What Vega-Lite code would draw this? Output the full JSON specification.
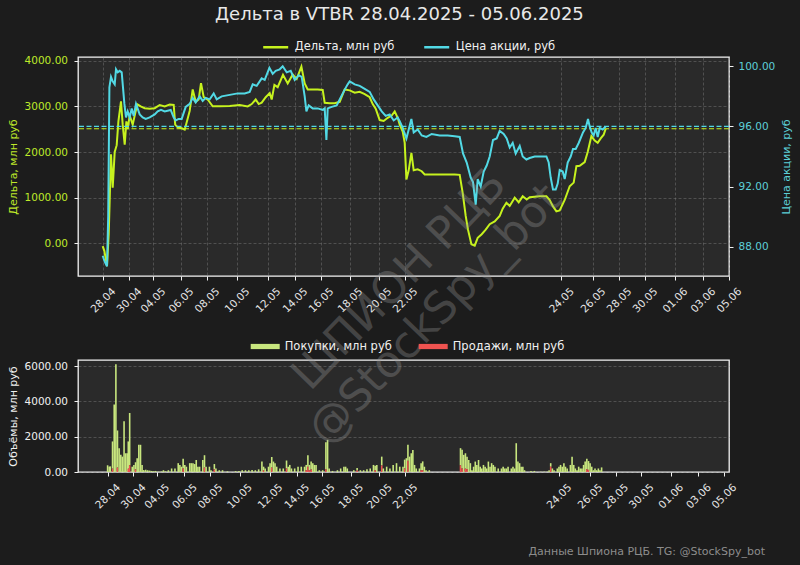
{
  "$schema": "https://vega.github.io/schema/vega-lite/v6.json",
  "background": "#1c1c1c",
  "padding": {"left": 6, "right": 8, "top": 6, "bottom": 10},
  "title": {"text": "Дельта в VTBR 28.04.2025 - 05.06.2025", "fontSize": 18, "color": "#e8e8e8", "font": "DejaVu Sans", "fontWeight": "normal", "anchor": "middle", "offset": 8},
  "bounds": "flush",
  "spacing": 84,
  "resolve": {"scale": {"color": "independent", "x": "independent", "y": "independent"}, "legend": {"color": "independent"}},
  "datasets": {
    "delta": [
      {"t":24.7,"v":-60},{"t":26.4,"v":-170},{"t":29,"v":-500},{"t":30.7,"v":200},{"t":33,"v":1950},{"t":34.7,"v":1220},{"t":36.7,"v":2000},{"t":38.7,"v":2150},{"t":40.4,"v":2670},{"t":43,"v":3110},{"t":44.7,"v":2600},{"t":46.7,"v":2160},{"t":48.4,"v":2670},{"t":49.7,"v":2500},{"t":51.7,"v":2800},{"t":54.7,"v":2600},{"t":57.7,"v":2900},{"t":59.7,"v":3040},{"t":62.7,"v":3000},{"t":66.7,"v":2960},{"t":71.7,"v":2950},{"t":76.7,"v":2960},{"t":81.7,"v":3030},{"t":86.7,"v":3000},{"t":91.7,"v":3040},{"t":95.7,"v":3030},{"t":97.2,"v":2600},{"t":99.7,"v":2540},{"t":103.7,"v":2520},{"t":106.7,"v":2490},{"t":108.7,"v":2650},{"t":111.7,"v":2900},{"t":114.7,"v":3370},{"t":117.7,"v":3100},{"t":120.7,"v":3150},{"t":123,"v":3510},{"t":125.7,"v":3200},{"t":129.7,"v":3150},{"t":134.7,"v":3000},{"t":141.7,"v":3000},{"t":151.7,"v":3010},{"t":161.7,"v":3030},{"t":169.7,"v":3000},{"t":173.7,"v":3050},{"t":177.7,"v":3150},{"t":180.7,"v":3050},{"t":183.7,"v":3080},{"t":187.7,"v":3200},{"t":191.7,"v":3290},{"t":193.7,"v":3150},{"t":196.4,"v":3470},{"t":199.7,"v":3420},{"t":205,"v":3690},{"t":209.7,"v":3500},{"t":214.7,"v":3700},{"t":218.7,"v":3600},{"t":223.4,"v":3870},{"t":226.7,"v":3500},{"t":229.7,"v":3370},{"t":233.7,"v":3370},{"t":239.7,"v":3370},{"t":244.7,"v":3360},{"t":246.7,"v":3080},{"t":251.7,"v":3070},{"t":256.7,"v":3070},{"t":261.7,"v":3100},{"t":266.7,"v":3370},{"t":271.7,"v":3350},{"t":276.7,"v":3300},{"t":281.7,"v":3320},{"t":286.7,"v":3270},{"t":291.7,"v":3200},{"t":294.7,"v":3050},{"t":297.7,"v":2950},{"t":301.7,"v":2700},{"t":305.7,"v":2680},{"t":309.7,"v":2750},{"t":313.7,"v":2800},{"t":316.7,"v":2890},{"t":319.7,"v":2750},{"t":321.7,"v":2600},{"t":324.7,"v":2450},{"t":326.7,"v":2200},{"t":328.4,"v":1400},{"t":330.7,"v":1600},{"t":333.4,"v":1980},{"t":335.7,"v":1600},{"t":339.7,"v":1620},{"t":343.7,"v":1580},{"t":346.7,"v":1510},{"t":356.7,"v":1510},{"t":366.7,"v":1510},{"t":376.7,"v":1510},{"t":381.7,"v":1500},{"t":384.7,"v":1100},{"t":387.7,"v":600},{"t":390,"v":300},{"t":393.4,"v":-20},{"t":396.7,"v":-50},{"t":399.7,"v":120},{"t":403.7,"v":200},{"t":407.7,"v":300},{"t":411.7,"v":420},{"t":416.7,"v":480},{"t":421.7,"v":600},{"t":424.7,"v":760},{"t":428.4,"v":890},{"t":431.7,"v":820},{"t":436.7,"v":1000},{"t":440.7,"v":900},{"t":444.7,"v":1030},{"t":448.7,"v":960},{"t":451.7,"v":1010},{"t":456.7,"v":1020},{"t":461.7,"v":1030},{"t":468.4,"v":1030},{"t":471.7,"v":950},{"t":474.7,"v":820},{"t":478.4,"v":700},{"t":481.7,"v":720},{"t":486.7,"v":950},{"t":491.7,"v":1250},{"t":495.7,"v":1330},{"t":498.4,"v":1690},{"t":501.7,"v":1700},{"t":506.7,"v":1780},{"t":509.7,"v":2000},{"t":513.4,"v":2350},{"t":516.7,"v":2250},{"t":519.7,"v":2200},{"t":522.7,"v":2300},{"t":525.7,"v":2380},{"t":527.7,"v":2510}
    ],
    "price": [
      {"t":24.7,"v":87.4},{"t":26.7,"v":87.0},{"t":29.0,"v":86.7},{"t":30.2,"v":90.0},{"t":31.4,"v":98.6},{"t":33.0,"v":99.3},{"t":34.7,"v":99.0},{"t":36.7,"v":98.8},{"t":38.0,"v":99.8},{"t":39.7,"v":99.6},{"t":41.7,"v":99.7},{"t":43.7,"v":99.6},{"t":46.4,"v":97.5},{"t":48.0,"v":96.6},{"t":49.7,"v":97.0},{"t":51.7,"v":96.6},{"t":53.7,"v":97.2},{"t":55.7,"v":96.7},{"t":58.0,"v":97.5},{"t":61.7,"v":96.8},{"t":64.7,"v":96.6},{"t":67.7,"v":96.5},{"t":71.7,"v":96.6},{"t":76.7,"v":96.8},{"t":79.7,"v":97.0},{"t":83.0,"v":97.1},{"t":86.7,"v":97.0},{"t":92.7,"v":97.1},{"t":95.7,"v":96.6},{"t":97.7,"v":96.4},{"t":100.7,"v":96.5},{"t":103.7,"v":96.5},{"t":105.7,"v":96.9},{"t":107.7,"v":97.3},{"t":111.7,"v":97.5},{"t":114.7,"v":97.9},{"t":117.7,"v":97.6},{"t":121.7,"v":98.0},{"t":124.7,"v":97.7},{"t":127.7,"v":97.9},{"t":131.7,"v":97.8},{"t":135.7,"v":98.2},{"t":138.7,"v":97.8},{"t":143.7,"v":98.0},{"t":151.7,"v":98.1},{"t":159.7,"v":98.2},{"t":166.7,"v":98.2},{"t":171.7,"v":98.3},{"t":174.7,"v":98.8},{"t":178.7,"v":98.7},{"t":183.7,"v":99.2},{"t":186.7,"v":99.1},{"t":191.4,"v":99.9},{"t":194.7,"v":99.5},{"t":197.7,"v":99.7},{"t":201.7,"v":99.8},{"t":204.7,"v":100.0},{"t":208.7,"v":99.6},{"t":212.7,"v":99.7},{"t":216.7,"v":99.1},{"t":220.7,"v":99.4},{"t":223.7,"v":99.3},{"t":226.7,"v":98.0},{"t":228.4,"v":97.0},{"t":230.7,"v":97.4},{"t":234.7,"v":97.2},{"t":239.7,"v":97.2},{"t":244.7,"v":97.1},{"t":246.7,"v":97.2},{"t":248.4,"v":95.1},{"t":249.7,"v":97.2},{"t":253.7,"v":97.3},{"t":258.7,"v":97.4},{"t":261.7,"v":97.8},{"t":266.7,"v":98.45},{"t":269.7,"v":98.8},{"t":271.7,"v":99.0},{"t":276.7,"v":98.8},{"t":281.7,"v":98.7},{"t":286.7,"v":98.5},{"t":291.7,"v":98.3},{"t":295.7,"v":97.8},{"t":299.7,"v":97.4},{"t":303.7,"v":97.0},{"t":307.7,"v":96.7},{"t":311.7,"v":96.8},{"t":315.7,"v":96.4},{"t":319.7,"v":96.6},{"t":321.7,"v":96.35},{"t":324.7,"v":95.9},{"t":328.4,"v":95.2},{"t":330.7,"v":95.8},{"t":333.4,"v":96.5},{"t":335.7,"v":95.6},{"t":339.7,"v":95.8},{"t":343.7,"v":95.4},{"t":348.4,"v":95.3},{"t":353.7,"v":95.5},{"t":361.7,"v":95.4},{"t":369.7,"v":95.4},{"t":376.7,"v":95.35},{"t":381.7,"v":95.3},{"t":385.0,"v":94.2},{"t":388.7,"v":93.6},{"t":392.7,"v":92.6},{"t":395.0,"v":92.3},{"t":397.7,"v":90.8},{"t":399.7,"v":92.5},{"t":402.7,"v":92.0},{"t":405.7,"v":93.0},{"t":408.7,"v":93.4},{"t":411.7,"v":94.0},{"t":415.0,"v":95.1},{"t":418.7,"v":95.2},{"t":421.7,"v":95.7},{"t":425.7,"v":95.5},{"t":428.7,"v":95.2},{"t":431.7,"v":94.6},{"t":434.7,"v":94.9},{"t":437.7,"v":94.2},{"t":441.7,"v":94.7},{"t":444.7,"v":94.0},{"t":448.4,"v":93.8},{"t":451.7,"v":93.9},{"t":456.7,"v":94.0},{"t":461.7,"v":94.0},{"t":468.4,"v":94.0},{"t":470.7,"v":93.6},{"t":472.7,"v":92.6},{"t":475.0,"v":91.8},{"t":477.7,"v":91.8},{"t":479.7,"v":92.2},{"t":481.7,"v":93.1},{"t":484.7,"v":93.0},{"t":486.7,"v":92.5},{"t":489.7,"v":93.6},{"t":492.7,"v":94.0},{"t":495.0,"v":94.5},{"t":497.7,"v":94.5},{"t":500.7,"v":94.9},{"t":505.0,"v":95.6},{"t":507.7,"v":95.9},{"t":510.0,"v":96.5},{"t":511.7,"v":96.0},{"t":513.7,"v":95.6},{"t":515.7,"v":95.4},{"t":517.7,"v":95.9},{"t":519.7,"v":95.3},{"t":521.7,"v":95.9},{"t":524.7,"v":95.8},{"t":527.7,"v":96.0}
    ],
    "vol": [
      {"t":25.0,"buy":380,"sell":0},{"t":26.7,"buy":300,"sell":0},{"t":27.7,"buy":320,"sell":0},{"t":30.0,"buy":1540,"sell":190},{"t":31.7,"buy":3820,"sell":0},{"t":33.4,"buy":6100,"sell":0},{"t":35.0,"buy":2100,"sell":250},{"t":36.7,"buy":1350,"sell":0},{"t":38.4,"buy":970,"sell":0},{"t":40.0,"buy":870,"sell":0},{"t":41.7,"buy":2870,"sell":0},{"t":43.4,"buy":1060,"sell":0},{"t":45.0,"buy":1060,"sell":0},{"t":46.0,"buy":1540,"sell":190},{"t":47.4,"buy":2960,"sell":380},{"t":50.0,"buy":300,"sell":0},{"t":51.7,"buy":400,"sell":0},{"t":53.4,"buy":400,"sell":150},{"t":55.0,"buy":780,"sell":0},{"t":56.7,"buy":1540,"sell":0},{"t":58.4,"buy":1540,"sell":0},{"t":60.0,"buy":400,"sell":0},{"t":61.7,"buy":110,"sell":0},{"t":63.7,"buy":130,"sell":0},{"t":65.7,"buy":100,"sell":0},{"t":67.7,"buy":80,"sell":0},{"t":69.7,"buy":60,"sell":0},{"t":71.7,"buy":40,"sell":0},{"t":73.7,"buy":60,"sell":0},{"t":76.7,"buy":20,"sell":0},{"t":79.7,"buy":30,"sell":0},{"t":81.7,"buy":100,"sell":0},{"t":83.7,"buy":40,"sell":0},{"t":86.7,"buy":100,"sell":0},{"t":90.0,"buy":200,"sell":0},{"t":93.4,"buy":200,"sell":0},{"t":96.7,"buy":500,"sell":0},{"t":98.4,"buy":400,"sell":0},{"t":100.0,"buy":300,"sell":0},{"t":101.7,"buy":550,"sell":200},{"t":103.4,"buy":400,"sell":0},{"t":105.0,"buy":300,"sell":0},{"t":108.4,"buy":500,"sell":0},{"t":110.0,"buy":500,"sell":0},{"t":111.7,"buy":500,"sell":0},{"t":113.4,"buy":450,"sell":0},{"t":115.0,"buy":680,"sell":0},{"t":116.7,"buy":300,"sell":0},{"t":118.4,"buy":300,"sell":0},{"t":121.7,"buy":680,"sell":0},{"t":123.4,"buy":700,"sell":250},{"t":125.0,"buy":300,"sell":0},{"t":128.4,"buy":300,"sell":0},{"t":130.0,"buy":100,"sell":0},{"t":133.4,"buy":300,"sell":150},{"t":135.0,"buy":200,"sell":0},{"t":138.4,"buy":100,"sell":0},{"t":141.7,"buy":100,"sell":0},{"t":146.7,"buy":40,"sell":0},{"t":155.0,"buy":50,"sell":0},{"t":158.4,"buy":60,"sell":0},{"t":161.7,"buy":100,"sell":0},{"t":165.0,"buy":100,"sell":0},{"t":168.4,"buy":100,"sell":0},{"t":171.7,"buy":120,"sell":0},{"t":175.0,"buy":100,"sell":0},{"t":178.4,"buy":150,"sell":0},{"t":181.7,"buy":590,"sell":0},{"t":183.4,"buy":200,"sell":100},{"t":185.0,"buy":200,"sell":0},{"t":188.4,"buy":300,"sell":0},{"t":190.0,"buy":500,"sell":0},{"t":191.7,"buy":600,"sell":250},{"t":193.4,"buy":590,"sell":0},{"t":195.0,"buy":500,"sell":0},{"t":196.7,"buy":300,"sell":0},{"t":200.0,"buy":200,"sell":0},{"t":203.4,"buy":200,"sell":0},{"t":206.7,"buy":450,"sell":200},{"t":208.4,"buy":300,"sell":0},{"t":210.0,"buy":400,"sell":0},{"t":211.7,"buy":200,"sell":0},{"t":215.0,"buy":200,"sell":0},{"t":218.4,"buy":300,"sell":0},{"t":221.7,"buy":300,"sell":0},{"t":225.0,"buy":300,"sell":0},{"t":226.7,"buy":300,"sell":100},{"t":228.4,"buy":650,"sell":300},{"t":230.0,"buy":300,"sell":100},{"t":231.7,"buy":450,"sell":140},{"t":233.4,"buy":500,"sell":0},{"t":235.0,"buy":400,"sell":0},{"t":236.7,"buy":400,"sell":0},{"t":240.0,"buy":100,"sell":0},{"t":243.4,"buy":100,"sell":0},{"t":246.7,"buy":1540,"sell":150},{"t":248.4,"buy":1820,"sell":0},{"t":250.0,"buy":200,"sell":0},{"t":253.4,"buy":60,"sell":0},{"t":258.4,"buy":100,"sell":0},{"t":261.7,"buy":200,"sell":0},{"t":265.0,"buy":300,"sell":0},{"t":266.7,"buy":300,"sell":0},{"t":268.4,"buy":200,"sell":0},{"t":275.0,"buy":100,"sell":0},{"t":278.4,"buy":150,"sell":80},{"t":281.7,"buy":100,"sell":0},{"t":285.0,"buy":100,"sell":0},{"t":288.4,"buy":150,"sell":0},{"t":291.7,"buy":200,"sell":0},{"t":295.0,"buy":400,"sell":0},{"t":296.7,"buy":250,"sell":100},{"t":298.4,"buy":400,"sell":0},{"t":303.4,"buy":500,"sell":370},{"t":305.0,"buy":200,"sell":0},{"t":308.4,"buy":300,"sell":0},{"t":311.7,"buy":200,"sell":0},{"t":315.0,"buy":400,"sell":0},{"t":318.4,"buy":500,"sell":0},{"t":321.7,"buy":300,"sell":0},{"t":325.0,"buy":300,"sell":0},{"t":326.7,"buy":500,"sell":200},{"t":328.4,"buy":780,"sell":0},{"t":330.0,"buy":900,"sell":640},{"t":331.7,"buy":870,"sell":0},{"t":333.4,"buy":1060,"sell":0},{"t":335.0,"buy":1250,"sell":0},{"t":336.7,"buy":400,"sell":0},{"t":338.4,"buy":200,"sell":0},{"t":341.7,"buy":200,"sell":0},{"t":343.4,"buy":400,"sell":100},{"t":345.0,"buy":500,"sell":100},{"t":346.7,"buy":300,"sell":0},{"t":348.4,"buy":100,"sell":0},{"t":351.7,"buy":100,"sell":0},{"t":383.4,"buy":970,"sell":380},{"t":385.0,"buy":1060,"sell":200},{"t":386.7,"buy":970,"sell":0},{"t":388.4,"buy":870,"sell":190},{"t":390.0,"buy":700,"sell":170},{"t":391.7,"buy":680,"sell":0},{"t":393.4,"buy":500,"sell":0},{"t":395.0,"buy":100,"sell":0},{"t":396.7,"buy":300,"sell":0},{"t":398.4,"buy":590,"sell":0},{"t":400.0,"buy":400,"sell":0},{"t":401.7,"buy":680,"sell":0},{"t":403.4,"buy":300,"sell":0},{"t":405.0,"buy":200,"sell":0},{"t":406.7,"buy":400,"sell":0},{"t":408.4,"buy":300,"sell":0},{"t":410.0,"buy":200,"sell":0},{"t":411.7,"buy":590,"sell":0},{"t":413.4,"buy":300,"sell":0},{"t":415.0,"buy":500,"sell":0},{"t":416.7,"buy":400,"sell":0},{"t":418.4,"buy":300,"sell":0},{"t":421.7,"buy":200,"sell":0},{"t":425.0,"buy":200,"sell":0},{"t":426.7,"buy":300,"sell":0},{"t":428.4,"buy":200,"sell":0},{"t":430.0,"buy":200,"sell":0},{"t":431.7,"buy":300,"sell":0},{"t":435.0,"buy":200,"sell":0},{"t":436.7,"buy":300,"sell":0},{"t":438.4,"buy":200,"sell":0},{"t":440.0,"buy":1630,"sell":0},{"t":441.7,"buy":590,"sell":0},{"t":443.4,"buy":500,"sell":0},{"t":445.0,"buy":300,"sell":0},{"t":446.7,"buy":300,"sell":0},{"t":448.4,"buy":100,"sell":0},{"t":455.0,"buy":60,"sell":0},{"t":458.4,"buy":60,"sell":0},{"t":465.0,"buy":20,"sell":0},{"t":468.4,"buy":20,"sell":0},{"t":471.7,"buy":20,"sell":0},{"t":473.4,"buy":100,"sell":0},{"t":475.0,"buy":200,"sell":300},{"t":476.7,"buy":200,"sell":0},{"t":478.4,"buy":100,"sell":0},{"t":481.7,"buy":200,"sell":0},{"t":483.4,"buy":300,"sell":0},{"t":485.0,"buy":400,"sell":0},{"t":486.7,"buy":300,"sell":0},{"t":488.4,"buy":500,"sell":0},{"t":490.0,"buy":300,"sell":0},{"t":491.7,"buy":200,"sell":0},{"t":495.0,"buy":400,"sell":0},{"t":496.7,"buy":870,"sell":0},{"t":498.4,"buy":400,"sell":0},{"t":500.0,"buy":200,"sell":0},{"t":501.7,"buy":100,"sell":0},{"t":503.4,"buy":300,"sell":0},{"t":505.0,"buy":200,"sell":0},{"t":506.7,"buy":200,"sell":0},{"t":508.4,"buy":400,"sell":0},{"t":510.0,"buy":590,"sell":0},{"t":511.7,"buy":600,"sell":150},{"t":513.4,"buy":500,"sell":120},{"t":515.0,"buy":500,"sell":0},{"t":516.7,"buy":300,"sell":0},{"t":518.4,"buy":100,"sell":0},{"t":520.0,"buy":200,"sell":0},{"t":521.7,"buy":100,"sell":0},{"t":523.4,"buy":200,"sell":0},{"t":525.0,"buy":100,"sell":0},{"t":526.7,"buy":260,"sell":0}
    ],
    "mark": [{"label": "watermark"}]
  },
  "vconcat": [
    {
      "width": 651,
      "height": 219,
      "encoding": {
        "x": {"field": "t", "type": "quantitative", "title": null, "scale": {"domain": [0, 651], "nice": false, "zero": false},
          "axis": {"values": [25,51,75,103,129,159,190,217,243,272,301,327,483.4,515,541,567,597,625,651], "labelExpr": "['28.04','30.04','04.05','06.05','08.05','10.05','12.05','14.05','16.05','18.05','20.05','22.05','24.05','26.05','28.05','30.05','01.06','03.06','05.06'][indexof([25,51,75,103,129,159,190,217,243,272,301,327,483.4,515,541,567,597,625,651], datum.value)]", "labelAngle": -45, "labelAlign": "center", "labelBaseline": "middle", "labelPadding": 20, "labelFlush": false, "labelOverlap": false, "labelBound": false, "grid": true, "labelColor": "#e6e6e6"}}
      },
      "layer": [
        {
          "data": {"name": "delta"},
          "layer": [
            {
              "mark": {"type": "line", "strokeWidth": 2},
              "encoding": {
                "y": {"field": "v", "type": "quantitative", "title": "Дельта, млн руб", "scale": {"domain": [-715, 4081], "nice": false, "zero": false},
                  "axis": {"orient": "left", "values": [0,1000,2000,3000,4000], "format": ".2f", "labelColor": "#bfe92a", "titleColor": "#bfe92a", "grid": true, "labelPadding": 6.5, "titlePadding": 6}},
                "color": {"datum": "Дельта, млн руб", "type": "nominal",
                  "scale": {"domain": ["Дельта, млн руб", "Цена акции, руб"], "range": ["#c6f21e", "#52d9e5"]},
                  "legend": {"orient": "none", "legendX": 183.7, "legendY": -24, "direction": "horizontal", "columns": 2, "title": null, "symbolType": "stroke", "symbolSize": 625, "symbolStrokeWidth": 2.5, "labelOffset": 5, "columnPadding": 24, "labelFontSize": 11.5, "labelColor": "#f0f0f0", "padding": 0}}
              }
            },
            {
              "transform": [{"filter": "datum.t > 527"}],
              "mark": {"type": "rule", "color": "#c6f21e", "strokeDash": [5, 2.5], "strokeWidth": 1.2},
              "encoding": {"x": null, "y": {"field": "v", "type": "quantitative", "title": "Дельта, млн руб"}}
            }
          ]
        },
        {
          "data": {"name": "price"},
          "layer": [
            {
              "mark": {"type": "line", "strokeWidth": 2},
              "encoding": {
                "y": {"field": "v", "type": "quantitative", "title": "Цена акции, руб", "scale": {"domain": [86.05, 100.62], "nice": false, "zero": false},
                  "axis": {"orient": "right", "values": [88,90,92,94,96,98,100], "format": ".2f", "labelColor": "#5ccfd8", "titleColor": "#5ccfd8", "grid": false, "labelPadding": 5, "titlePadding": 6, "titleAngle": 270, "titleBaseline": "top"}},
                "color": {"datum": "Цена акции, руб", "type": "nominal"}
              }
            },
            {
              "transform": [{"filter": "datum.t > 527"}],
              "mark": {"type": "rule", "color": "#52d9e5", "strokeDash": [5, 2.5], "strokeWidth": 1.2},
              "encoding": {"x": null, "y": {"field": "v", "type": "quantitative", "title": "Цена акции, руб"}}
            }
          ]
        }
      ],
      "resolve": {"scale": {"y": "independent"}}
    },
    {
      "width": 651,
      "height": 112,
      "title": {"text": "Данные Шпиона РЦБ. TG: @StockSpy_bot", "orient": "bottom", "anchor": "end", "frame": "group", "dx": 36, "offset": 35, "fontSize": 11, "color": "#8c8c8c", "fontWeight": "normal", "font": "DejaVu Sans"},
      "layer": [
        {
          "data": {"name": "vol"},
          "transform": [{"fold": ["buy", "sell"], "as": ["kind", "val"]}],
          "mark": {"type": "bar", "size": 1.6},
          "encoding": {
            "x": {"field": "t", "type": "quantitative", "title": null, "scale": {"domain": [0, 651], "nice": false, "zero": false},
              "axis": {"values": [25,51,75,103,129,159,190,217,243,272,301,327,483.4,515,541,567,597,625,651], "labelExpr": "['28.04','30.04','04.05','06.05','08.05','10.05','12.05','14.05','16.05','18.05','20.05','22.05','24.05','26.05','28.05','30.05','01.06','03.06','05.06'][indexof([25,51,75,103,129,159,190,217,243,272,301,327,483.4,515,541,567,597,625,651], datum.value)]", "labelAngle": -45, "labelAlign": "center", "labelBaseline": "middle", "labelPadding": 20, "labelFlush": false, "labelOverlap": false, "labelBound": false, "grid": false, "labelColor": "#e6e6e6"}},
            "y": {"field": "val", "type": "quantitative", "stack": "zero", "title": "Объёмы, млн руб", "scale": {"domain": [0, 6340], "nice": false},
              "axis": {"values": [0,2000,4000,6000], "format": ".2f", "labelColor": "#f0f0f0", "titleColor": "#f0f0f0", "grid": true, "labelPadding": 6.5, "titlePadding": 6, "labelOverlap": false, "labelFlush": false}},
            "color": {"field": "kind", "type": "nominal",
              "scale": {"domain": ["buy", "sell"], "range": ["#c8e67e", "#ef5350"]},
              "legend": {"orient": "none", "legendX": 172.7, "legendY": -28, "direction": "horizontal", "columns": 2, "title": null, "symbolType": "M-1,-0.18L1,-0.18L1,0.18L-1,0.18Z", "symbolSize": 841, "symbolStrokeWidth": 0, "labelOffset": 5, "columnPadding": 26, "labelFontSize": 11.5, "labelColor": "#f0f0f0", "padding": 0,
                "labelExpr": "datum.label == 'buy' ? 'Покупки, млн руб' : 'Продажи, млн руб'"}}
          }
        },
        {
          "data": {"name": "mark"},
          "mark": {"type": "text", "text": ["ШПИОН РЦБ", "@StockSpy_bot"], "angle": -46, "fontSize": 44, "lineHeight": 50, "align": "center", "baseline": "middle", "color": "#9a9a9a", "opacity": 0.32, "font": "DejaVu Sans"},
          "encoding": {
            "x": {"datum": 321.7, "type": "quantitative", "title": null,
              "axis": {"values": [25,51,75,103,129,159,190,217,243,272,301,327,483.4,515,541,567,597,625,651], "labelExpr": "['28.04','30.04','04.05','06.05','08.05','10.05','12.05','14.05','16.05','18.05','20.05','22.05','24.05','26.05','28.05','30.05','01.06','03.06','05.06'][indexof([25,51,75,103,129,159,190,217,243,272,301,327,483.4,515,541,567,597,625,651], datum.value)]", "labelAngle": -45, "labelAlign": "center", "labelBaseline": "middle", "labelPadding": 20, "labelFlush": false, "labelOverlap": false, "labelBound": false, "grid": false, "labelColor": "#e6e6e6"}},
            "y": {"datum": 10850, "type": "quantitative", "title": "Объёмы, млн руб",
              "axis": {"values": [0,2000,4000,6000], "format": ".2f", "labelColor": "#f0f0f0", "titleColor": "#f0f0f0", "grid": true, "labelPadding": 6.5, "titlePadding": 6, "labelOverlap": false, "labelFlush": false}}
          }
        }
      ]
    }
  ],
  "config": {
    "font": "DejaVu Sans",
    "view": {"fill": "#2a2a2a", "stroke": "#f4f4f4", "strokeWidth": 1.3},
    "axis": {"domain": false, "labelFont": "DejaVu Sans", "titleFont": "DejaVu Sans", "labelFontSize": 10.5, "titleFontSize": 11, "titleFontWeight": "normal", "tickColor": "#f0f0f0", "tickSize": 4, "tickWidth": 1, "gridColor": "#8a8a8a", "gridOpacity": 0.5, "gridDash": [3, 2], "gridWidth": 0.8},
    "legend": {"labelFont": "DejaVu Sans"}
  }
}
